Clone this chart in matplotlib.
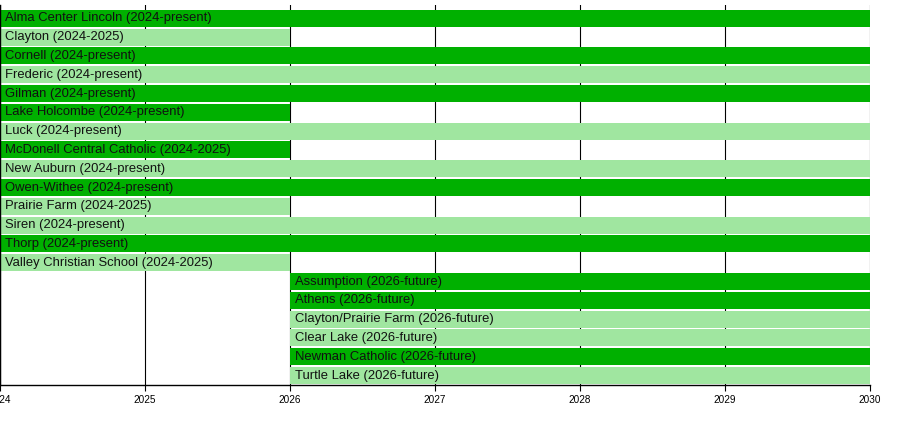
import matplotlib
matplotlib.use("Agg")
from matplotlib import pyplot as plt

plt.rcParams['font.family'] = ['Liberation Sans', 'DejaVu Sans']

names = ["Alma Center Lincoln", "Clayton", "Cornell", "Frederic", "Gilman",
         "Lake Holcombe", "Luck", "McDonell Central Catholic", "New Auburn",
         "Owen-Withee", "Prairie Farm", "Siren", "Thorp", "Valley Christian School",
         "Assumption", "Athens", "Clayton/Prairie Farm", "Clear Lake",
         "Newman Catholic", "Turtle Lake"]
periods = ["2024-present", "2024-2025", "2024-present", "2024-present", "2024-present",
           "2024-present", "2024-present", "2024-2025", "2024-present",
           "2024-present", "2024-2025", "2024-present", "2024-present", "2024-2025",
           "2026-future", "2026-future", "2026-future", "2026-future",
           "2026-future", "2026-future"]
starts = [2024, 2024, 2024, 2024, 2024, 2024, 2024, 2024, 2024, 2024, 2024, 2024, 2024, 2024,
          2026, 2026, 2026, 2026, 2026, 2026]
ends = [2030, 2026, 2030, 2030, 2030, 2026, 2030, 2026, 2030, 2030, 2026, 2030, 2030, 2026,
        2030, 2030, 2030, 2030, 2030, 2030]
# 1 = dark green, 0 = light green
shade = [1, 0, 1, 0, 1, 1, 0, 1, 0, 1, 0, 0, 1, 0, 1, 1, 0, 0, 1, 0]
years = [2024, 2025, 2026, 2027, 2028, 2029, 2030]

dark = "#00b000"
light = "#a0e6a0"

fig = plt.figure(figsize=(9, 4.33), dpi=100)
ax = fig.add_axes([0, 0.111, 0.9667, 0.877])

for i in range(len(names)):
    c = dark if shade[i] else light
    ax.barh(i, ends[i] - starts[i], left=starts[i], height=0.9, color=c, zorder=2)
    ax.text(starts[i] + 0.035, i, f"{names[i]} ({periods[i]})", va="center", ha="left",
            fontsize=9.4, color="#111111", zorder=3)

ax.set_xlim(2024, 2030)
ax.set_ylim(len(names) - 0.5, -0.7)
ax.set_xticks(years)
ax.set_xticklabels([str(y) for y in years], fontsize=7.2)
ax.set_yticks([])
ax.grid(axis="x", color="black", linewidth=0.8, zorder=0)
for s in ["top", "right"]:
    ax.spines[s].set_visible(False)
ax.spines["bottom"].set_linewidth(1)
ax.spines["left"].set_linewidth(1)
ax.tick_params(axis="x", length=4, width=0.8, pad=3)

fig.savefig("out.png", dpi=100)
